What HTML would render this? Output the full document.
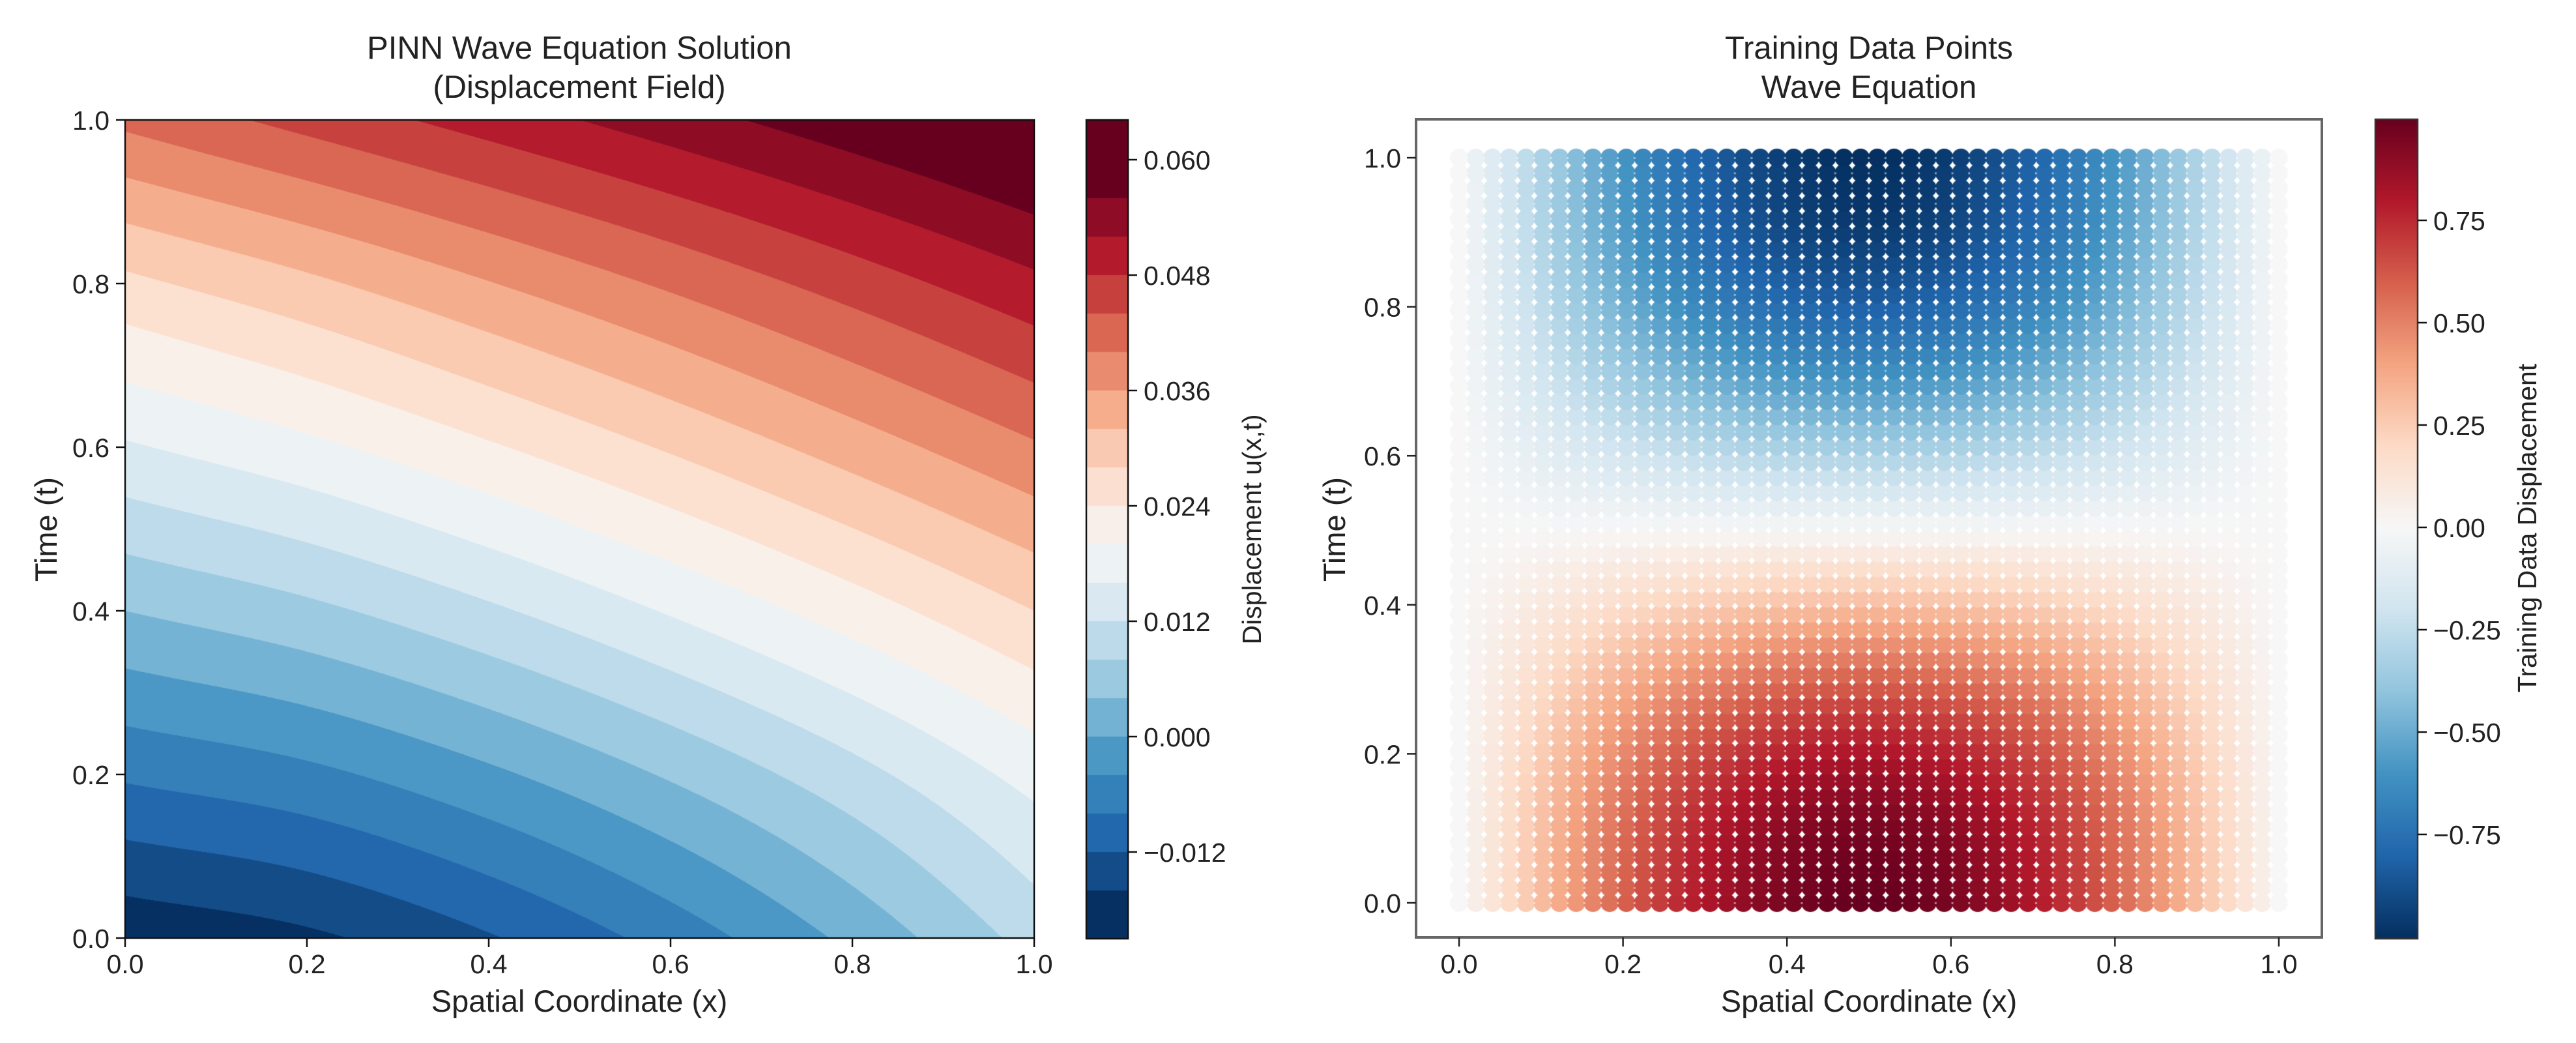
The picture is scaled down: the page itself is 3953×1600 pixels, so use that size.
<!DOCTYPE html>
<html><head><meta charset="utf-8">
<style>
html,body{margin:0;padding:0;background:#fff;}
#wrap{position:relative;width:3953px;height:1600px;overflow:hidden;background:#fff;}
canvas{position:absolute;}
svg{position:absolute;left:0;top:0;}
text{font-family:"Liberation Sans",sans-serif;fill:#222;}
</style></head>
<body>
<div id="wrap">
<canvas id="c1"></canvas>
<canvas id="cb1"></canvas>
<canvas id="c2"></canvas>
<canvas id="cb2"></canvas>
<svg id="ov" width="3953" height="1600"></svg>
</div>
<script>
// ---------- DATA ----------
const gridX = [0, 0.2, 0.4, 0.6, 0.8, 1.0];
const gridT = [0, 0.2, 0.4, 0.6, 0.8, 1.0];
const uRow0 = [-0.0190, -0.0168, -0.0124, -0.0064, 0.0010, 0.0095];
const uRow1 = [-0.0074, -0.0050, -0.0008, 0.0045, 0.0106, 0.0175];
const uRow2 = [0.0040, 0.0070, 0.0113, 0.0164, 0.0220, 0.0280];
const uRow3 = [0.0155, 0.0190, 0.0235, 0.0285, 0.0339, 0.0395];
const uRow4 = [0.0270, 0.0311, 0.0358, 0.0407, 0.0458, 0.0510];
const uRow5 = [0.0410, 0.0454, 0.0498, 0.0542, 0.0586, 0.0630];
const contourLevels = [-0.024,-0.020,-0.016,-0.012,-0.008,-0.004,0.000,0.004,0.008,0.012,0.016,0.020,0.024,0.028,0.032,0.036,0.040,0.044,0.048,0.052,0.056,0.060,0.064];
const cb1Ticks = [-0.012, 0.000, 0.012, 0.024, 0.036, 0.048, 0.060];
const cb1TickLabels = ["\u22120.012","0.000","0.012","0.024","0.036","0.048","0.060"];
const axisTicks = [0, 0.2, 0.4, 0.6, 0.8, 1.0];
const axisTickLabels = ["0.0","0.2","0.4","0.6","0.8","1.0"];
const profX = [0, 0.1, 0.2, 0.3, 0.4, 0.5, 0.6, 0.7, 0.8, 0.9, 1.0];
const ampX = [0.00, 0.31, 0.59, 0.81, 0.95, 1.00, 0.95, 0.81, 0.59, 0.31, 0.00];
const profT = [0, 0.1, 0.2, 0.3, 0.4, 0.5, 0.6, 0.7, 0.8, 0.9, 1.0];
const ampT = [1.00, 0.95, 0.81, 0.59, 0.31, 0.00, -0.31, -0.59, -0.81, -0.95, -1.00];
const nPts = 50;
const cb2Ticks = [-0.75, -0.5, -0.25, 0, 0.25, 0.5, 0.75];
const cb2TickLabels = ["\u22120.75","\u22120.50","\u22120.25","0.00","0.25","0.50","0.75"];

// ---------- helpers ----------
const rdbu = [[5,48,97],[33,102,172],[67,147,195],[146,197,222],[209,229,240],[247,247,247],[253,219,199],[244,165,130],[214,96,77],[178,24,43],[103,0,31]];
function cmap(f){f=Math.max(0,Math.min(1,f));const p=f*10;const i=Math.min(9,Math.floor(p));const r=p-i;const a=rdbu[i],b=rdbu[i+1];return [a[0]+(b[0]-a[0])*r,a[1]+(b[1]-a[1])*r,a[2]+(b[2]-a[2])*r];}
function interp1(xs,ys,x){if(x<=xs[0])return ys[0];for(let i=1;i<xs.length;i++){if(x<=xs[i]){const r=(x-xs[i-1])/(xs[i]-xs[i-1]);return ys[i-1]+(ys[i]-ys[i-1])*r;}}return ys[ys.length-1];}
function cubic(xs,ys,x){const n=xs.length;let i=1;while(i<n-1&&x>xs[i])i++;const i0=i-1,i1=i;const h=xs[i1]-xs[i0];const r=Math.max(0,Math.min(1,(x-xs[i0])/h));
 const p0=ys[i0],p1=ys[i1];const pm=i0>0?ys[i0-1]:2*p0-p1;const pp=i1<n-1?ys[i1+1]:2*p1-p0;
 const m0=(p1-pm)/2,m1=(pp-p0)/2;const r2=r*r,r3=r2*r;
 return (2*r3-3*r2+1)*p0+(r3-2*r2+r)*m0+(-2*r3+3*r2)*p1+(r3-r2)*m1;}
const uRows=[uRow0,uRow1,uRow2,uRow3,uRow4,uRow5];
function uAt(x,t){const col=uRows.map(r=>cubic(gridX,r,x));return cubic(gridT,col,t);}
const svg=document.getElementById('ov');const NS="http://www.w3.org/2000/svg";
function mk(tag,attrs,txt){const e=document.createElementNS(NS,tag);for(const k in attrs)e.setAttribute(k,attrs[k]);if(txt!==undefined)e.textContent=txt;svg.appendChild(e);return e;}

// ---------- Left plot ----------
const L={x0:192,x1:1587,y0:1439,y1:184};
const lx=v=>L.x0+(L.x1-L.x0)*v, ly=v=>L.y0+(L.y1-L.y0)*v;
(function(){
const c=document.getElementById('c1');const w=L.x1-L.x0,h=L.y0-L.y1;c.width=w;c.height=h;c.style.left=L.x0+'px';c.style.top=L.y1+'px';
const ctx=c.getContext('2d');const img=ctx.createImageData(w,h);const nb=contourLevels.length-1;
const lo=1,hi=nb-2;
for(let py=0;py<h;py++){const t=1-(py+0.5)/h;const col=null;for(let px=0;px<w;px++){const x=(px+0.5)/w;const u=uAt(x,t);
let b=Math.floor((u-contourLevels[0])/0.004);b=Math.max(lo,Math.min(hi,b));const cc=cmap((b-lo)/(hi-lo));const k=(py*w+px)*4;img.data[k]=cc[0];img.data[k+1]=cc[1];img.data[k+2]=cc[2];img.data[k+3]=255;}}
ctx.putImageData(img,0,0);
})();
const CB1={x0:1667,x1:1731,y0:1440,y1:184};
const cb1y=v=>245+(0.060-v)*14750;
(function(){const c=document.getElementById('cb1');const w=CB1.x1-CB1.x0,h=CB1.y0-CB1.y1;c.width=w;c.height=h;c.style.left=CB1.x0+'px';c.style.top=CB1.y1+'px';const ctx=c.getContext('2d');
const nb=contourLevels.length-1,lo=1,hi=nb-2;
for(let b=lo;b<=hi;b++){const cc=cmap((b-lo)/(hi-lo));ctx.fillStyle=`rgb(${cc[0]|0},${cc[1]|0},${cc[2]|0})`;const ya=cb1y(contourLevels[b+1])-CB1.y1,yb=cb1y(contourLevels[b])-CB1.y1;const top=(b===hi)?0:ya;const bot=(b===lo)?h:yb;ctx.fillRect(0,top,w,bot-top);}
})();
mk('rect',{x:L.x0,y:L.y1,width:L.x1-L.x0,height:L.y0-L.y1,fill:'none',stroke:'#111','stroke-width':2.5,});
mk('rect',{x:CB1.x0,y:CB1.y1,width:CB1.x1-CB1.x0,height:CB1.y0-CB1.y1,fill:'none',stroke:'#111','stroke-width':2.5,});
axisTicks.forEach((v,i)=>{
 mk('line',{x1:lx(v),x2:lx(v),y1:L.y0,y2:L.y0+14,stroke:'#111','stroke-width':2.5,});
 mk('text',{x:lx(v),y:1493,'font-size':41,'text-anchor':'middle',},axisTickLabels[i]);
 mk('line',{x1:L.x0-14,x2:L.x0,y1:ly(v),y2:ly(v),stroke:'#111','stroke-width':2.5,});
 mk('text',{x:168,y:ly(v)+15,'font-size':41,'text-anchor':'end',},axisTickLabels[i]);
});
cb1Ticks.forEach((v,i)=>{
 mk('line',{x1:CB1.x1,x2:CB1.x1+14,y1:cb1y(v),y2:cb1y(v),stroke:'#111','stroke-width':2.5,});
 mk('text',{x:CB1.x1+24,y:cb1y(v)+15,'font-size':41,},cb1TickLabels[i]);
});
mk('text',{x:889,y:90,'font-size':49,'text-anchor':'middle',},'PINN Wave Equation Solution');
mk('text',{x:889,y:150,'font-size':49,'text-anchor':'middle',},'(Displacement Field)');
mk('text',{x:889,y:1552,'font-size':47,'text-anchor':'middle',},'Spatial Coordinate (x)');
mk('text',{x:0,y:0,'font-size':47,'text-anchor':'middle',transform:'translate(87,812) rotate(-90)',},'Time (t)');
mk('text',{x:0,y:0,'font-size':41,'text-anchor':'middle',transform:'translate(1935,812) rotate(-90)',},'Displacement u(x,t)');

// ---------- Right plot ----------
const R={x0:2173,x1:3563,y0:1438,y1:183};
const rx=v=>2239+1258*v, ry=v=>1385-1143*v;
(function(){const c=document.getElementById('c2');const w=R.x1-R.x0,h=R.y0-R.y1;c.width=w;c.height=h;c.style.left=R.x0+'px';c.style.top=R.y1+'px';const ctx=c.getContext('2d');
for(let j=0;j<nPts;j++){const t=j/(nPts-1);const at=cubic(profT,ampT,t);
 for(let i=0;i<nPts;i++){const x=i/(nPts-1);const v=cubic(profX,ampX,x)*at;const cc=cmap((v+1)/2);
  ctx.fillStyle=`rgb(${cc[0]|0},${cc[1]|0},${cc[2]|0})`;ctx.beginPath();ctx.arc(rx(x)-R.x0,ry(t)-R.y1,14,0,Math.PI*2);ctx.fill();}}
ctx.fillStyle='rgba(255,255,255,0.5)';
for(let j=0;j<nPts;j++){for(let i=0;i<nPts;i++){ctx.fillRect(rx(i/(nPts-1))-R.x0+11,ry(j/(nPts-1))-R.y1-1,3,3);}}
})();
const CB2={x0:3645,x1:3710,y0:1440,y1:183};
const cb2y=v=>809-628*v;
(function(){const c=document.getElementById('cb2');const w=CB2.x1-CB2.x0,h=CB2.y0-CB2.y1;c.width=w;c.height=h;c.style.left=CB2.x0+'px';c.style.top=CB2.y1+'px';const ctx=c.getContext('2d');
for(let py=0;py<h;py++){const v=(809-(py+CB2.y1))/628;const cc=cmap((v+1)/2);ctx.fillStyle=`rgb(${cc[0]|0},${cc[1]|0},${cc[2]|0})`;ctx.fillRect(0,py,w,1);}})();
mk('rect',{x:R.x0,y:R.y1,width:R.x1-R.x0,height:R.y0-R.y1,fill:'none',stroke:'#666','stroke-width':4,});
mk('rect',{x:CB2.x0,y:CB2.y1,width:CB2.x1-CB2.x0,height:CB2.y0-CB2.y1,fill:'none',stroke:'#333','stroke-width':2.5,});
axisTicks.forEach((v,i)=>{
 mk('line',{x1:rx(v),x2:rx(v),y1:R.y0,y2:R.y0+14,stroke:'#222','stroke-width':2.5,});
 mk('text',{x:rx(v),y:1493,'font-size':41,'text-anchor':'middle',},axisTickLabels[i]);
 mk('line',{x1:R.x0-14,x2:R.x0,y1:ry(v),y2:ry(v),stroke:'#222','stroke-width':2.5,});
 mk('text',{x:2150,y:ry(v)+15,'font-size':41,'text-anchor':'end',},axisTickLabels[i]);
});
cb2Ticks.forEach((v,i)=>{
 mk('line',{x1:CB2.x1,x2:CB2.x1+14,y1:cb2y(v),y2:cb2y(v),stroke:'#111','stroke-width':2.5,});
 mk('text',{x:CB2.x1+24,y:cb2y(v)+15,'font-size':41,},cb2TickLabels[i]);
});
mk('text',{x:2868,y:90,'font-size':49,'text-anchor':'middle',},'Training Data Points');
mk('text',{x:2868,y:150,'font-size':49,'text-anchor':'middle',},'Wave Equation');
mk('text',{x:2868,y:1552,'font-size':47,'text-anchor':'middle',},'Spatial Coordinate (x)');
mk('text',{x:0,y:0,'font-size':47,'text-anchor':'middle',transform:'translate(2064,812) rotate(-90)',},'Time (t)');
mk('text',{x:0,y:0,'font-size':41,'text-anchor':'middle',transform:'translate(3892,810) rotate(-90)',},'Training Data Displacement');
</script>
</body></html>
